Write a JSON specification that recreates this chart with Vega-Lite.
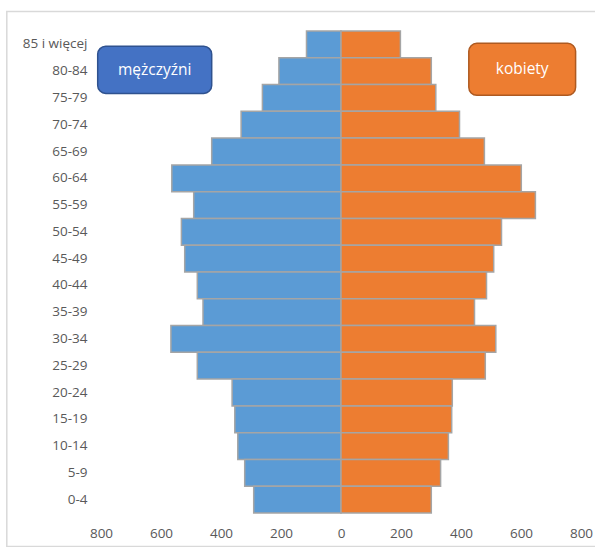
{
  "$schema": "https://vega.github.io/schema/vega-lite/v6.json",
  "width": 480,
  "height": 482,
  "autosize": {"type": "none"},
  "padding": {"left": 101, "top": 31, "right": 14, "bottom": 34},
  "background": "white",
  "config": {
    "view": {"stroke": null},
    "font": "Open Sans"
  },
  "datasets": {
    "pop": [
      {"age": "85 i więcej", "sex": "mężczyźni", "value": -115},
      {"age": "80-84", "sex": "mężczyźni", "value": -207},
      {"age": "75-79", "sex": "mężczyźni", "value": -262},
      {"age": "70-74", "sex": "mężczyźni", "value": -333},
      {"age": "65-69", "sex": "mężczyźni", "value": -431},
      {"age": "60-64", "sex": "mężczyźni", "value": -564},
      {"age": "55-59", "sex": "mężczyźni", "value": -491},
      {"age": "50-54", "sex": "mężczyźni", "value": -532},
      {"age": "45-49", "sex": "mężczyźni", "value": -521},
      {"age": "40-44", "sex": "mężczyźni", "value": -479},
      {"age": "35-39", "sex": "mężczyźni", "value": -460},
      {"age": "30-34", "sex": "mężczyźni", "value": -567},
      {"age": "25-29", "sex": "mężczyźni", "value": -479},
      {"age": "20-24", "sex": "mężczyźni", "value": -363},
      {"age": "15-19", "sex": "mężczyźni", "value": -354},
      {"age": "10-14", "sex": "mężczyźni", "value": -344},
      {"age": "5-9", "sex": "mężczyźni", "value": -321},
      {"age": "0-4", "sex": "mężczyźni", "value": -291},
      {"age": "85 i więcej", "sex": "kobiety", "value": 198},
      {"age": "80-84", "sex": "kobiety", "value": 301},
      {"age": "75-79", "sex": "kobiety", "value": 316},
      {"age": "70-74", "sex": "kobiety", "value": 395},
      {"age": "65-69", "sex": "kobiety", "value": 478},
      {"age": "60-64", "sex": "kobiety", "value": 601},
      {"age": "55-59", "sex": "kobiety", "value": 648},
      {"age": "50-54", "sex": "kobiety", "value": 535},
      {"age": "45-49", "sex": "kobiety", "value": 509},
      {"age": "40-44", "sex": "kobiety", "value": 485},
      {"age": "35-39", "sex": "kobiety", "value": 445},
      {"age": "30-34", "sex": "kobiety", "value": 516},
      {"age": "25-29", "sex": "kobiety", "value": 481},
      {"age": "20-24", "sex": "kobiety", "value": 371},
      {"age": "15-19", "sex": "kobiety", "value": 369},
      {"age": "10-14", "sex": "kobiety", "value": 358},
      {"age": "5-9", "sex": "kobiety", "value": 332},
      {"age": "0-4", "sex": "kobiety", "value": 301}
    ],
    "boxes": [
      {"label": "mężczyźni", "x1": -811, "x2": -431, "y1": 15.67, "y2": 17.43, "xc": -621, "yc": 16.55},
      {"label": "kobiety", "x1": 426, "x2": 782, "y1": 15.6, "y2": 17.54, "xc": 604, "yc": 16.57}
    ],
    "frame": [
      {"x1": -1114, "x2": 852, "y1": -1.25, "y2": 18.73}
    ]
  },
  "resolve": {"scale": {"y": "independent"}},
  "layer": [
    {
      "data": {"name": "pop"},
      "mark": {"type": "bar", "stroke": "#a5a5a5", "strokeWidth": 1.5},
      "encoding": {
        "y": {
          "field": "age",
          "type": "nominal",
          "scale": {
            "domain": ["85 i więcej", "80-84", "75-79", "70-74", "65-69", "60-64", "55-59", "50-54", "45-49", "40-44", "35-39", "30-34", "25-29", "20-24", "15-19", "10-14", "5-9", "0-4"],
            "paddingInner": 0,
            "paddingOuter": 0
          },
          "axis": {
            "title": null,
            "domain": false,
            "ticks": false,
            "labelPadding": 14,
            "labelFontSize": 13.5,
            "labelColor": "#595959",
            "labelFont": "Open Sans"
          }
        },
        "x": {
          "field": "value",
          "type": "quantitative",
          "scale": {"domain": [-800, 800], "nice": false},
          "axis": {
            "title": null,
            "values": [-800, -600, -400, -200, 0, 200, 400, 600, 800],
            "labelExpr": "format(abs(datum.value), 'd')",
            "labelFlush": false,
            "labelBound": false,
            "domain": false,
            "ticks": false,
            "grid": false,
            "labelPadding": 13,
            "labelFontSize": 13.5,
            "labelColor": "#595959",
            "labelFont": "Open Sans"
          }
        },
        "color": {
          "field": "sex",
          "type": "nominal",
          "scale": {"domain": ["mężczyźni", "kobiety"], "range": ["#5b9bd5", "#ed7d31"]},
          "legend": null
        }
      }
    },
    {
      "data": {"name": "frame"},
      "mark": {"type": "rect", "fill": null, "stroke": "#d9d9d9", "strokeWidth": 1.5, "clip": false},
      "encoding": {
        "x": {"field": "x1", "type": "quantitative"},
        "x2": {"field": "x2"},
        "y": {"field": "y1", "type": "quantitative", "scale": {"domain": [0, 18], "nice": false, "zero": false}, "axis": null},
        "y2": {"field": "y2"}
      }
    },
    {
      "data": {"name": "boxes"},
      "layer": [
        {
          "mark": {"type": "rect", "cornerRadius": 8, "strokeWidth": 1.5, "clip": false},
          "encoding": {
            "x": {"field": "x1", "type": "quantitative"},
            "x2": {"field": "x2"},
            "y": {"field": "y1", "type": "quantitative", "scale": {"domain": [0, 18], "nice": false, "zero": false}, "axis": null},
            "y2": {"field": "y2"},
            "fill": {
              "field": "label",
              "type": "nominal",
              "scale": {"domain": ["mężczyźni", "kobiety"], "range": ["#4472c4", "#ed7d31"]},
              "legend": null
            },
            "stroke": {
              "field": "label",
              "type": "nominal",
              "scale": {"domain": ["mężczyźni", "kobiety"], "range": ["#2f528f", "#ae5a21"]},
              "legend": null
            }
          }
        },
        {
          "mark": {"type": "text", "color": "white", "fontSize": 15.5, "font": "Open Sans", "align": "center", "baseline": "middle"},
          "encoding": {
            "x": {"field": "xc", "type": "quantitative"},
            "y": {"field": "yc", "type": "quantitative", "scale": {"domain": [0, 18], "nice": false, "zero": false}, "axis": null},
            "text": {"field": "label"}
          }
        }
      ]
    }
  ]
}
